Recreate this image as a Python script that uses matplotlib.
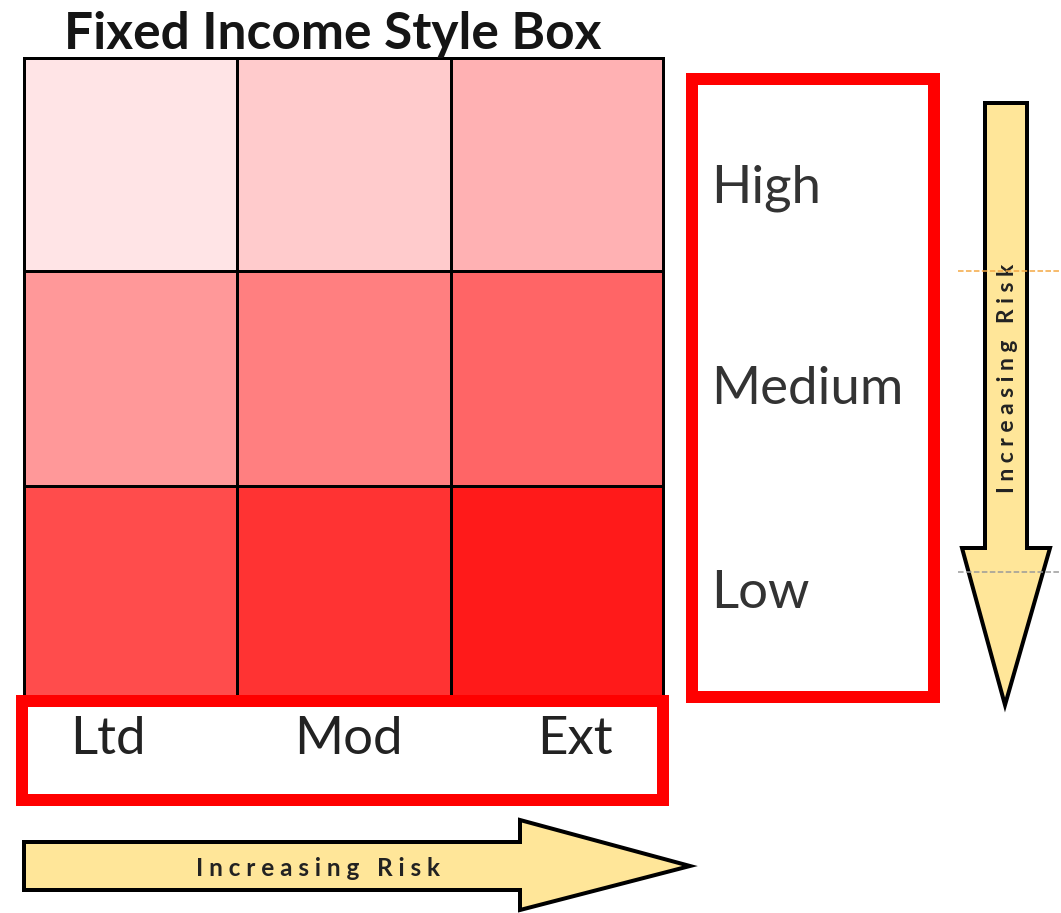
import numpy as np
import matplotlib.pyplot as plt
from matplotlib.colors import LinearSegmentedColormap
from matplotlib.patches import Rectangle, Polygon

# style box data
duration = ["Ltd", "Mod", "Ext"]
quality = ["High", "Medium", "Low"]
risk = np.array([[1, 2, 3],
                 [4, 5, 6],
                 [7, 8, 9]])

fig = plt.figure(figsize=(10.61, 9.13), dpi=100)
ax = fig.add_axes([0, 0, 1, 1])
ax.set_xlim(0, 1061)
ax.set_ylim(913, 0)
ax.axis('off')

px = 72 / 100  # pixels -> points

# grid of cells
xe = np.array([24, 237, 451, 663])
ye = np.array([58, 271, 486, 697])
cmap = LinearSegmentedColormap.from_list('reds', ['#FFE4E6', '#FF1A1A'])
ax.pcolormesh(xe, ye, risk, cmap=cmap, vmin=1, vmax=9,
              edgecolors='black', linewidth=3 * px)
ax.add_patch(Rectangle((24, 58), 639, 639, fill=False, ec='black', lw=3 * px))

ax.text(333, 34, "Fixed Income Style Box", ha='center', va='center',
        fontsize=37, fontweight='bold', family='Lato', color='#151515')

# red boxes
ax.add_patch(Rectangle((692, 79), 242, 618, fill=False, ec='#FF0000', lw=12 * px))
ax.add_patch(Rectangle((22, 701), 641, 99, fill=False, ec='#FF0000', lw=12 * px,
                       zorder=3))

for lab, yc in zip(quality, [188, 390, 594]):
    ax.text(711, yc, lab, ha='left', va='center',
            fontsize=38, family='Lato', color='#333333')

for lab, xc in zip(duration, [108, 348, 575]):
    ax.text(xc, 740, lab, ha='center', va='center', fontsize=38,
            family='Lato', color='#222222')

# arrows
fill = '#FFE699'
arrow_txt = "I n c r e a s i n g   R i s k"
ax.add_patch(Polygon([(24, 842), (520, 842), (520, 820), (690, 866),
                      (520, 910), (520, 890), (24, 890)],
                     closed=True, fc=fill, ec='black', lw=4 * px, joinstyle='miter'))
ax.text(318, 868, arrow_txt, ha='center', va='center',
        fontsize=17.5, fontweight='bold', family='Lato', color='#222222')

ax.add_patch(Polygon([(985, 103), (1027, 103), (1027, 548), (1050, 548),
                      (1005, 705), (962, 548), (985, 548)],
                     closed=True, fc=fill, ec='black', lw=4 * px, joinstyle='miter'))
ax.text(1007, 378, arrow_txt, ha='center', va='center',
        rotation=90, fontsize=16.5, fontweight='bold', family='Lato',
        color='#222222')

ax.plot([958, 1061], [271, 271], ls='--', color='#F4A640', lw=1.5 * px, zorder=4)
ax.plot([958, 1061], [572, 572], ls='--', color='#999999', lw=1.5 * px, zorder=4)

fig.savefig('out.png', dpi=100)
